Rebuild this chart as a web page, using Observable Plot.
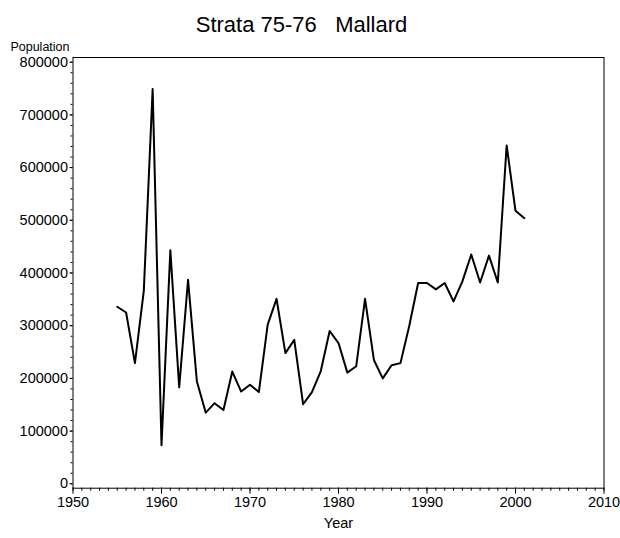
<!DOCTYPE html>
<html>
<head>
<meta charset="utf-8">
<script src="https://cdn.jsdelivr.net/npm/d3@7"></script>
<script src="https://cdn.jsdelivr.net/npm/@observablehq/plot@0.6"></script>
<style>
  html, body { margin: 0; padding: 0; background: white; }
  svg text { white-space: pre; }
</style>
</head>
<body>
<div id="chart"></div>
<script>
const title = "Strata 75-76   Mallard";
const yLabel = "Population";
const xLabel = "Year";

const years = [1955,1956,1957,1958,1959,1960,1961,1962,1963,1964,1965,1966,1967,1968,1969,1970,
  1971,1972,1973,1974,1975,1976,1977,1978,1979,1980,1981,1982,1983,1984,1985,1986,1987,1988,
  1989,1990,1991,1992,1993,1994,1995,1996,1997,1998,1999,2000,2001];
const population = [336000,325000,229000,366000,749000,73000,443000,183000,387000,194000,135000,153000,140000,213000,175000,188000,
  174000,302000,351000,248000,273000,151000,174000,214000,290000,267000,211000,223000,351000,235000,200000,225000,229000,300000,
  381000,381000,369000,381000,346000,384000,435000,382000,433000,382000,642000,518000,504000];

const xTicks = [1950,1960,1970,1980,1990,2000,2010];
const xMinorTicks = d3.range(1950, 2011, 1);
const yTicks = [0,100000,200000,300000,400000,500000,600000,700000,800000];
const yMinorTicks = d3.range(0, 800001, 20000);

const data = years.map((year, i) => ({year, value: population[i]}));

const chart = Plot.plot({
  width: 620,
  height: 538,
  marginLeft: 72.5,
  marginRight: 16.5,
  marginTop: 57,
  marginBottom: 50.3,
  style: {fontFamily: "'Liberation Sans', Arial, sans-serif", fontSize: "14.5px", background: "white", color: "black"},
  x: {domain: [1950, 2010]},
  y: {domain: [-8350, 808900]},
  marks: [
    Plot.frame({stroke: "black", strokeWidth: 1}),
    Plot.axisX({ticks: xMinorTicks, tickSize: 3, text: null, label: null}),
    Plot.axisX({ticks: xTicks, tickSize: 6, tickPadding: 3, tickFormat: d => String(d), fontSize: 14.5, label: null}),
    Plot.axisY({ticks: yMinorTicks, tickSize: 2, text: null, label: null}),
    Plot.axisY({ticks: yTicks, tickSize: 3, tickPadding: 2, tickFormat: d => String(d), fontSize: 14.5, label: null}),
    Plot.line(data, {x: "year", y: "value", stroke: "black", strokeWidth: 2}),
    Plot.text([title], {frameAnchor: "top", text: d => d, lineAnchor: "bottom", dy: -26, dx: -37, fontSize: 22}),
    Plot.text([yLabel], {frameAnchor: "top-left", text: d => d, textAnchor: "end", lineAnchor: "bottom", dx: -3.5, dy: -7, fontSize: 12.5}),
    Plot.text([xLabel], {frameAnchor: "bottom", text: d => d, lineAnchor: "bottom", dy: 40, fontSize: 14.5})
  ]
});
document.getElementById("chart").appendChild(chart);
</script>
</body>
</html>
